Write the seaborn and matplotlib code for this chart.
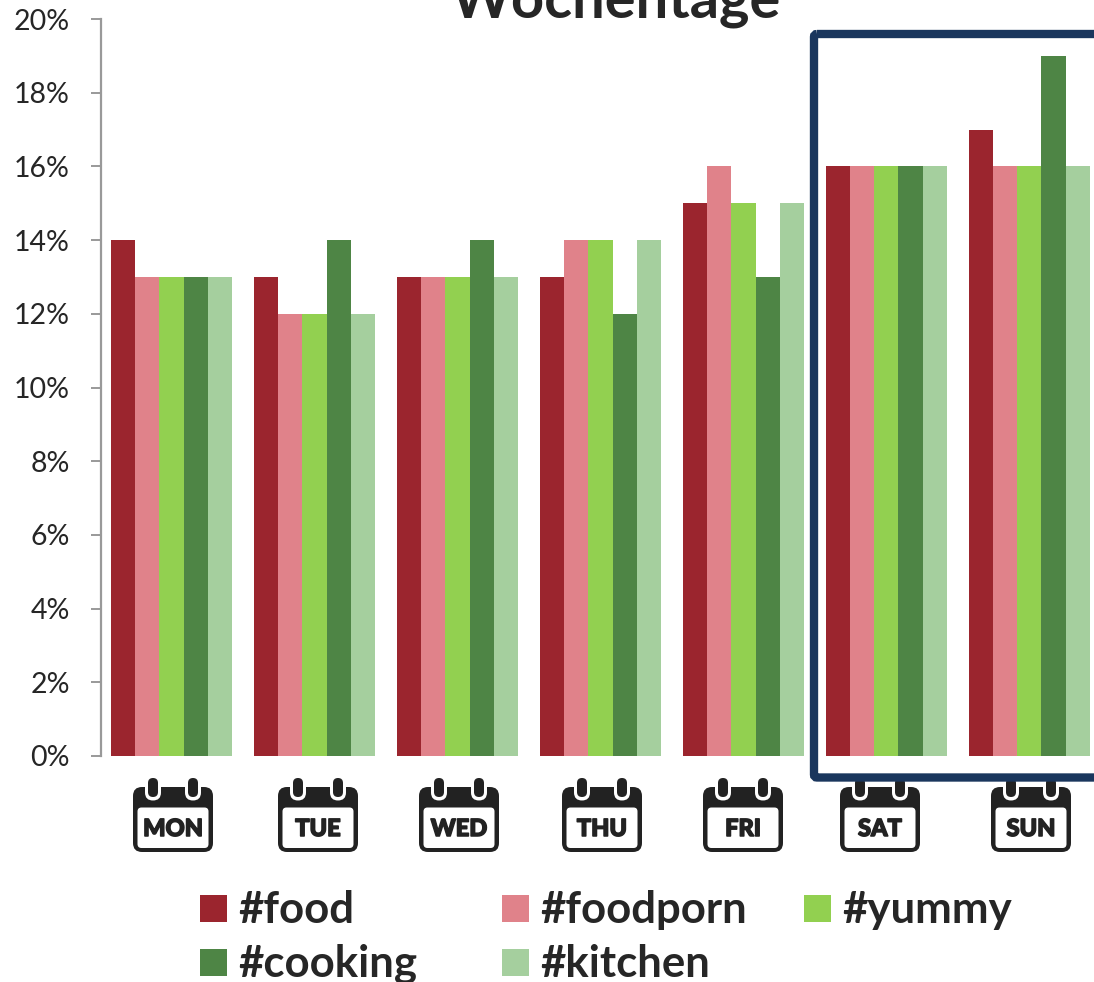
import matplotlib
matplotlib.use('Agg')
import matplotlib.pyplot as plt
import matplotlib.patheffects as pe
from matplotlib.patches import FancyBboxPatch, Rectangle
from matplotlib.transforms import Affine2D
import seaborn as sns
import pandas as pd

# Values
days = ['MON', 'TUE', 'WED', 'THU', 'FRI', 'SAT', 'SUN']
food = [14, 13, 13, 13, 15, 16, 17]
foodporn = [13, 12, 13, 14, 16, 16, 16]
yummy = [13, 12, 13, 14, 15, 16, 16]
cooking = [13, 14, 14, 12, 13, 16, 19]
kitchen = [13, 12, 13, 14, 15, 16, 16]
tags = ['#food', '#foodporn', '#yummy', '#cooking', '#kitchen']
colors = ['#9b252e', '#e0828a', '#92d050', '#4e8545', '#a5cf9e']
yticks = [0, 2, 4, 6, 8, 10, 12, 14, 16, 18, 20]
ylabels = ['0%', '2%', '4%', '6%', '8%', '10%', '12%', '14%', '16%', '18%', '20%']

# Where the calendar icons and legend entries sit, in pixels of the picture
icon_x = [173, 318, 459, 602, 743, 880, 1031]
legend_x = [200, 502, 804, 200, 502]
legend_y = [895, 895, 895, 949, 949]

W, H = 1094, 982

df = pd.DataFrame({'day': days, '#food': food, '#foodporn': foodporn, '#yummy': yummy,
                   '#cooking': cooking, '#kitchen': kitchen})
df_melt = pd.melt(df, id_vars=['day'], value_vars=tags, var_name='tag', value_name='share')

sns.set_style('white')
plt.rcParams['font.family'] = ['Lato', 'DejaVu Sans']

fig = plt.figure(figsize=(W / 100, H / 100), dpi=100)
ax = fig.add_axes([101 / W, 1 - 756 / H, (W - 101) / W, (756 - 19) / H])
# top left pixel coordinates for everything outside the axes
px = Affine2D().scale(1, -1).translate(0, H)

sns.barplot(x='day', y='share', hue='tag', data=df_melt, palette=colors, order=days, hue_order=tags,
            width=0.846, gap=0, saturation=1, legend=False, linewidth=0, ax=ax)

ax.set_xlim(-0.493, 6.452)
ax.set_ylim(0, 20)
ax.set_yticks(yticks)
ax.set_yticklabels(ylabels, fontsize=20.5, color='#262626')
ax.set_xticks([])
ax.set_xlabel('')
ax.set_ylabel('')
ax.tick_params(axis='y', left=True, length=7.5, width=1.4, color='#999999', pad=15)
sns.despine(ax=ax, bottom=True)
ax.spines['left'].set_color('#999999')
ax.spines['left'].set_linewidth(1.6)
ax.patch.set_alpha(0)

# Title is cut by the top of the picture
fig.text(616, 17, 'Wochentage', transform=px, ha='center', va='baseline', fontsize=41.7, fontweight='bold',
         color='#262626')


# Calendar icon used as tick label
def calendar(cx, label):
    dark = '#222222'
    fig.add_artist(FancyBboxPatch((cx - 40, 787), 80, 65, boxstyle='round,pad=0,rounding_size=9',
                                  facecolor=dark, edgecolor='none', transform=px))
    fig.add_artist(FancyBboxPatch((cx - 35.5, 807.5), 71, 40.5, boxstyle='round,pad=0,rounding_size=4',
                                  facecolor='white', edgecolor='none', transform=px))
    for rx in (cx - 20, cx + 20):
        fig.add_artist(FancyBboxPatch((rx - 8, 776), 16, 24.5, boxstyle='round,pad=0,rounding_size=8',
                                      facecolor='white', edgecolor='none', transform=px))
        fig.add_artist(FancyBboxPatch((rx - 5, 778), 10, 19, boxstyle='round,pad=0,rounding_size=5',
                                      facecolor=dark, edgecolor='none', transform=px))
    label_text = fig.text(cx, 836, label, transform=px, ha='center', va='baseline', fontsize=17,
                          fontweight='black', color=dark)
    label_text.set_path_effects([pe.withStroke(linewidth=1.1, foreground=dark)])


for cx, day in zip(icon_x, days):
    calendar(cx, day)

# Weekend frame runs off the right edge and lies over the icon rings
fig.add_artist(FancyBboxPatch((814, 34), 400, 743.5, boxstyle='round,pad=0,rounding_size=3', fill=False,
                              edgecolor='#1a365d', linewidth=6, transform=px, zorder=5))

# Legend
for lx, ly, tag, color in zip(legend_x, legend_y, tags, colors):
    fig.add_artist(Rectangle((lx, ly), 27, 27, facecolor=color, edgecolor='none', transform=px))
    fig.text(lx + 38, ly + 28, tag, transform=px, ha='left', va='baseline', fontsize=31.5, fontweight='bold',
             color='#262626')

plt.savefig('out.png', dpi=100)
